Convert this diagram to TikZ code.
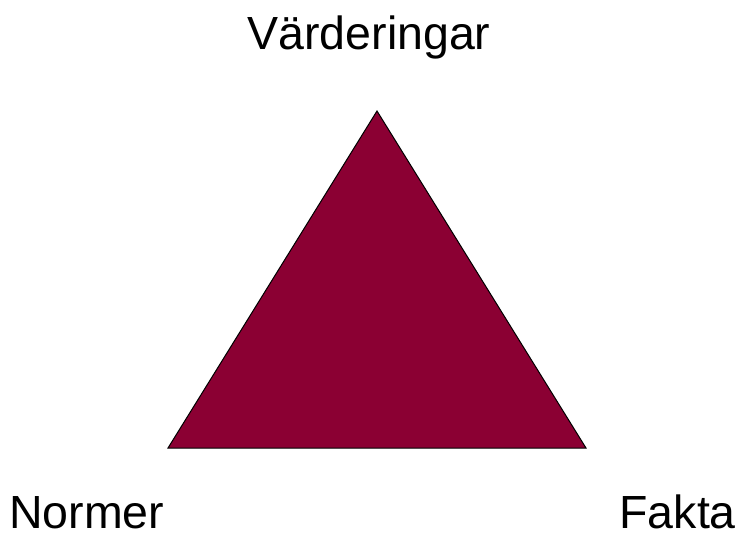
\documentclass[tikz,border=0pt]{standalone}
\usepackage{fontspec}
\setmainfont{Liberation Sans}
\definecolor{tri}{RGB}{139,0,51}
\begin{document}
\begin{tikzpicture}[x=1pt,y=-1pt,
  lbl/.style={inner sep=0pt,font=\fontsize{46.5}{56}\selectfont}]
\useasboundingbox (0,0) rectangle (742,535);
\coordinate (apex) at (377,111);
\coordinate (bl) at (168,448);
\coordinate (br) at (586,448);
\filldraw[fill=tri,draw=black,line width=1pt,line join=miter] (apex) -- (br) -- (bl) -- cycle;
\node[lbl,anchor=base] (v) at (369,50) {Värderingar};
\node[lbl,anchor=base west] (n) at (9,528) {Normer};
\node[lbl,anchor=base east] (f) at (736,528) {Fakta};
\end{tikzpicture}
\end{document}
